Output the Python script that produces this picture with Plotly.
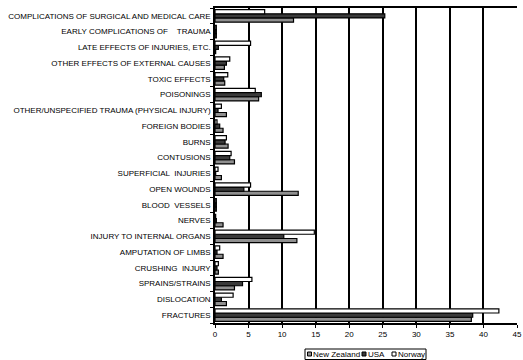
import plotly.graph_objects as go

# Injury categories, listed from the bottom of the chart to the top
categories = [
    "FRACTURES",
    "DISLOCATION",
    "SPRAINS/STRAINS",
    "CRUSHING  INJURY",
    "AMPUTATION OF LIMBS",
    "INJURY TO INTERNAL ORGANS",
    "NERVES",
    "BLOOD  VESSELS",
    "OPEN WOUNDS",
    "SUPERFICIAL  INJURIES",
    "CONTUSIONS",
    "BURNS",
    "FOREIGN BODIES",
    "OTHER/UNSPECIFIED TRAUMA (PHYSICAL INJURY)",
    "POISONINGS",
    "TOXIC EFFECTS",
    "OTHER EFFECTS OF EXTERNAL CAUSES",
    "LATE EFFECTS OF INJURIES, ETC.",
    "EARLY COMPLICATIONS OF \u00a0\u00a0\u00a0TRAUMA",
    "COMPLICATIONS OF SURGICAL AND MEDICAL CARE",
]

new_zealand = [38.2, 1.7, 2.9, 0.5, 1.2, 12.2, 1.2, 0.2, 12.4, 0.95, 2.9, 1.95, 1.2, 1.7, 6.5, 1.45, 1.4, 0.1, 0.2, 11.7]
usa = [38.4, 0.95, 4.1, 0.3, 0.3, 10.25, 0.2, 0.2, 4.3, 0.1, 2.2, 1.5, 0.7, 0.45, 6.9, 1.3, 1.7, 0.5, 0.2, 25.3]
norway = [42.3, 2.7, 5.5, 0.5, 0.7, 14.8, 0.1, 0.2, 5.3, 0.45, 2.4, 1.7, 0.3, 0.95, 6.0, 1.9, 2.2, 5.3, 0.2, 7.4]

x_ticks = [0, 5, 10, 15, 20, 25, 30, 35, 40, 45]

series_names = ["New Zealand", "USA", "Norway"]
series_values = [new_zealand, usa, norway]
series_colors = ["#8f8f8f", "#3a3a3a", "#ffffff"]

W, H = 523, 360
ML, MR, MT, MB = 215, 6, 8, 37
PW, PH = W - ML - MR, H - MT - MB


def px_x(px):
    """Pixel column -> paper x."""
    return (px - ML) / PW


def px_y(py):
    """Pixel row -> paper y."""
    return (H - MB - py) / PH


fig = go.Figure()
for name, vals, color in zip(series_names, series_values, series_colors):
    fig.add_trace(go.Bar(
        y=categories, x=vals, name=name, orientation="h",
        marker=dict(color=color, line=dict(color="#000000", width=1.2)),
        showlegend=False,
    ))

# Compact boxed legend below the plot
shapes = [dict(
    type="rect", xref="paper", yref="paper",
    x0=px_x(305), x1=px_x(426), y0=px_y(349), y1=px_y(359.5),
    line=dict(color="#000000", width=1), fillcolor="white", layer="above",
)]
annotations = []
legend_items = [(307.5, 311.5), (362, 366), (392, 396)]
for (sx0, sx1), name, color in zip(legend_items, series_names, series_colors):
    shapes.append(dict(
        type="rect", xref="paper", yref="paper",
        x0=px_x(sx0), x1=px_x(sx1), y0=px_y(352), y1=px_y(356),
        line=dict(color="#000000", width=1), fillcolor=color, layer="above",
    ))
    annotations.append(dict(
        text=name, xref="paper", yref="paper",
        x=px_x(sx1 + 0.5), y=px_y(354.2), xanchor="left", yanchor="middle",
        showarrow=False, font=dict(size=8), borderpad=0,
    ))

fig.update_layout(
    width=W, height=H,
    margin=dict(l=ML, r=MR, t=MT, b=MB, autoexpand=False),
    paper_bgcolor="white", plot_bgcolor="white",
    barmode="group", bargap=0.2, bargroupgap=0,
    font=dict(family="Liberation Sans, Arial, sans-serif", size=8, color="#000000"),
    showlegend=False,
    shapes=shapes,
    annotations=annotations,
    xaxis=dict(
        range=[0, 45], tickvals=x_ticks, ticktext=[str(v) for v in x_ticks],
        showgrid=True, gridcolor="#000000", gridwidth=1.5,
        showline=True, linecolor="#000000", linewidth=1.5, mirror=True,
        ticks="outside", ticklen=3, tickcolor="#000000",
        zeroline=False, fixedrange=True,
    ),
    yaxis=dict(
        categoryorder="array", categoryarray=categories,
        showline=True, linecolor="#000000", linewidth=1.5,
        ticks="outside", ticklen=3, tickcolor="#000000", tickson="boundaries",
        ticklabelstandoff=1,
        showgrid=False, zeroline=False, fixedrange=True,
    ),
)

fig.write_html("out.html")
